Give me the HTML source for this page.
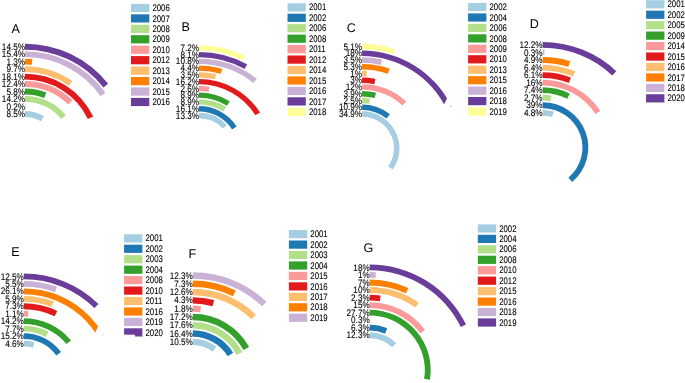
<!DOCTYPE html>
<html><head><meta charset="utf-8"><style>
html,body{margin:0;padding:0;background:#fff;width:685px;height:383px;overflow:hidden}
svg{display:block;will-change:transform}
text{text-rendering:geometricPrecision;font-family:"Liberation Sans",sans-serif;fill:#000;stroke:#000;stroke-width:0.1px}
.t{stroke:none}
.l{font-size:9.5px;text-anchor:end;dominant-baseline:central}
.g{font-size:9.5px;dominant-baseline:central}
.t{font-size:12.6px}
</style></head><body>
<svg width="685" height="383" viewBox="0 0 685 383">
<defs>
<clipPath id="cC"><path d="M0,0H685V383H0Z M434.73,147.58a107.87,106.7 0 1 0 215.75,0a107.87,106.7 0 1 0 -215.75,0Z" clip-rule="evenodd"/></clipPath>
<clipPath id="cE"><path d="M0,0H685V383H0Z M85.23,377.08a107.57,106.4 0 1 0 215.14,0a107.57,106.4 0 1 0 -215.14,0Z" clip-rule="evenodd"/></clipPath>
</defs>
<path d="M25,111A37.59,37.18 0 0 1 44.04,116.12L41.02,121.21A31.62,31.28 0 0 0 25,116.9Z" fill="#a6cee3"/>
<text transform="translate(25,114.55) scale(0.86,1)" class="l">8.5%</text>
<path d="M25,103.53A45.14,44.65 0 0 1 25.56,103.53L25.49,109.43A39.18,38.75 0 0 0 25,109.43Z" fill="#1f78b4" opacity="0.35"/>
<text transform="translate(25,107.08) scale(0.86,1)" class="l">0.2%</text>
<path d="M25,96.06A52.7,52.12 0 0 1 65.87,115.27L61.24,119A46.73,46.22 0 0 0 25,101.96Z" fill="#b2df8a"/>
<text transform="translate(25,99.61) scale(0.86,1)" class="l">14.2%</text>
<path d="M25,88.58A60.25,59.6 0 0 1 46.37,92.46L44.25,97.97A54.29,53.7 0 0 0 25,94.48Z" fill="#33a02c"/>
<text transform="translate(25,92.13) scale(0.86,1)" class="l">5.8%</text>
<path d="M25,81.11A67.81,67.07 0 0 1 72.45,100.26L68.27,104.48A61.84,61.17 0 0 0 25,87.01Z" fill="#fb9a99"/>
<text transform="translate(25,84.66) scale(0.86,1)" class="l">12.4%</text>
<path d="M25,73.64A75.36,74.54 0 0 1 93.2,116.46L87.8,118.97A69.4,68.64 0 0 0 25,79.54Z" fill="#e31a1c"/>
<text transform="translate(25,77.19) scale(0.86,1)" class="l">18.1%</text>
<path d="M25,66.17A82.92,82.01 0 0 1 72.24,80.78L68.85,85.63A76.95,76.11 0 0 0 25,72.07Z" fill="#fdbf6f"/>
<text transform="translate(25,69.72) scale(0.86,1)" class="l">9.7%</text>
<path d="M25,58.69A90.47,89.49 0 0 1 32.34,58.99L31.86,64.87A84.5,83.59 0 0 0 25,64.59Z" fill="#ff7f00"/>
<text transform="translate(25,62.24) scale(0.86,1)" class="l">1.3%</text>
<path d="M25,51.22A98.02,96.96 0 0 1 105.44,92.77L100.55,96.14A92.06,91.06 0 0 0 25,57.12Z" fill="#cab2d6"/>
<text transform="translate(25,54.77) scale(0.86,1)" class="l">15.4%</text>
<path d="M25,43.75A105.58,104.43 0 0 1 108.11,83.78L103.42,87.42A99.61,98.53 0 0 0 25,49.65Z" fill="#6a3d9a"/>
<text transform="translate(25,47.3) scale(0.86,1)" class="l">14.5%</text>
<rect x="131" y="3.85" width="18.3" height="8.2" fill="#a6cee3"/>
<text transform="translate(152.4,8.55) scale(0.82,1)" class="g">2006</text>
<rect x="131" y="14.3" width="18.3" height="8.2" fill="#1f78b4"/>
<text transform="translate(152.4,19) scale(0.82,1)" class="g">2007</text>
<rect x="131" y="24.75" width="18.3" height="8.2" fill="#b2df8a"/>
<text transform="translate(152.4,29.45) scale(0.82,1)" class="g">2008</text>
<rect x="131" y="35.2" width="18.3" height="8.2" fill="#33a02c"/>
<text transform="translate(152.4,39.9) scale(0.82,1)" class="g">2009</text>
<rect x="131" y="45.65" width="18.3" height="8.2" fill="#fb9a99"/>
<text transform="translate(152.4,50.35) scale(0.82,1)" class="g">2010</text>
<rect x="131" y="56.1" width="18.3" height="8.2" fill="#e31a1c"/>
<text transform="translate(152.4,60.8) scale(0.82,1)" class="g">2012</text>
<rect x="131" y="66.55" width="18.3" height="8.2" fill="#fdbf6f"/>
<text transform="translate(152.4,71.25) scale(0.82,1)" class="g">2013</text>
<rect x="131" y="77" width="18.3" height="8.2" fill="#ff7f00"/>
<text transform="translate(152.4,81.7) scale(0.82,1)" class="g">2014</text>
<rect x="131" y="87.45" width="18.3" height="8.2" fill="#cab2d6"/>
<text transform="translate(152.4,92.15) scale(0.82,1)" class="g">2015</text>
<rect x="131" y="97.9" width="18.3" height="8.2" fill="#6a3d9a"/>
<text transform="translate(152.4,102.6) scale(0.82,1)" class="g">2016</text>
<text x="11.6" y="33.2" class="t">A</text>
<path d="M199,112.85A37.74,37.33 0 0 1 226.88,125.02L222.92,128.59A32.38,32.03 0 0 0 199,118.15Z" fill="#a6cee3"/>
<text transform="translate(199,116.1) scale(0.86,1)" class="l">13.3%</text>
<path d="M199,106.09A44.58,44.1 0 0 1 236.66,126.59L232.14,129.42A39.22,38.8 0 0 0 199,111.38Z" fill="#1f78b4"/>
<text transform="translate(199,109.33) scale(0.86,1)" class="l">16.1%</text>
<path d="M199,99.32A51.42,50.86 0 0 1 226.15,106.99L223.32,111.49A46.06,45.56 0 0 0 199,104.62Z" fill="#b2df8a"/>
<text transform="translate(199,102.57) scale(0.86,1)" class="l">8.9%</text>
<path d="M199,92.56A58.26,57.63 0 0 1 229.76,101.24L226.93,105.74A52.9,52.33 0 0 0 199,97.85Z" fill="#33a02c"/>
<text transform="translate(199,95.8) scale(0.86,1)" class="l">8.9%</text>
<path d="M199,85.79A65.1,64.39 0 0 1 209.53,86.64L208.67,91.87A59.74,59.09 0 0 0 199,91.09Z" fill="#fb9a99"/>
<text transform="translate(199,89.04) scale(0.86,1)" class="l">2.6%</text>
<path d="M199,79.02A71.94,71.16 0 0 1 260.01,112.49L255.47,115.29A66.58,65.86 0 0 0 199,84.33Z" fill="#e31a1c"/>
<text transform="translate(199,82.27) scale(0.86,1)" class="l">16.2%</text>
<path d="M199,72.26A78.78,77.92 0 0 1 216.1,74.12L214.93,79.29A73.42,72.62 0 0 0 199,77.56Z" fill="#fdbf6f"/>
<text transform="translate(199,75.51) scale(0.86,1)" class="l">3.5%</text>
<path d="M199,65.49A85.62,84.69 0 0 1 222.25,68.68L220.79,73.78A80.26,79.39 0 0 0 199,70.8Z" fill="#ff7f00"/>
<text transform="translate(199,68.74) scale(0.86,1)" class="l">4.4%</text>
<path d="M199,58.73A92.46,91.45 0 0 1 256.78,78.78L253.43,82.92A87.1,86.15 0 0 0 199,64.03Z" fill="#cab2d6"/>
<text transform="translate(199,61.98) scale(0.86,1)" class="l">10.8%</text>
<path d="M199,51.96A99.3,98.22 0 0 1 247.15,64.28L244.55,68.92A93.94,92.92 0 0 0 199,57.27Z" fill="#6a3d9a"/>
<text transform="translate(199,55.21) scale(0.86,1)" class="l">8.1%</text>
<path d="M199,45.2A106.13,104.98 0 0 1 245.17,55.65L242.83,60.42A100.78,99.68 0 0 0 199,50.5Z" fill="#ffff99"/>
<text transform="translate(199,48.45) scale(0.86,1)" class="l">7.2%</text>
<rect x="287.5" y="3.25" width="18.3" height="8.2" fill="#a6cee3"/>
<text transform="translate(308.9,7.95) scale(0.82,1)" class="g">2001</text>
<rect x="287.5" y="13.7" width="18.3" height="8.2" fill="#1f78b4"/>
<text transform="translate(308.9,18.4) scale(0.82,1)" class="g">2002</text>
<rect x="287.5" y="24.15" width="18.3" height="8.2" fill="#b2df8a"/>
<text transform="translate(308.9,28.85) scale(0.82,1)" class="g">2006</text>
<rect x="287.5" y="34.6" width="18.3" height="8.2" fill="#33a02c"/>
<text transform="translate(308.9,39.3) scale(0.82,1)" class="g">2008</text>
<rect x="287.5" y="45.05" width="18.3" height="8.2" fill="#fb9a99"/>
<text transform="translate(308.9,49.75) scale(0.82,1)" class="g">2011</text>
<rect x="287.5" y="55.5" width="18.3" height="8.2" fill="#e31a1c"/>
<text transform="translate(308.9,60.2) scale(0.82,1)" class="g">2012</text>
<rect x="287.5" y="65.95" width="18.3" height="8.2" fill="#fdbf6f"/>
<text transform="translate(308.9,70.65) scale(0.82,1)" class="g">2014</text>
<rect x="287.5" y="76.4" width="18.3" height="8.2" fill="#ff7f00"/>
<text transform="translate(308.9,81.1) scale(0.82,1)" class="g">2015</text>
<rect x="287.5" y="86.85" width="18.3" height="8.2" fill="#cab2d6"/>
<text transform="translate(308.9,91.55) scale(0.82,1)" class="g">2016</text>
<rect x="287.5" y="97.3" width="18.3" height="8.2" fill="#6a3d9a"/>
<text transform="translate(308.9,102) scale(0.82,1)" class="g">2017</text>
<rect x="287.5" y="107.75" width="18.3" height="8.2" fill="#ffff99"/>
<text transform="translate(308.9,112.45) scale(0.82,1)" class="g">2018</text>
<text x="181.6" y="30.9" class="t">B</text>
<path d="M362.1,111.3A37.4,36.99 0 0 1 392.74,169.49L388.19,166.34A31.84,31.49 0 0 0 362.1,116.8Z" fill="#a6cee3"/>
<text transform="translate(362.1,114.65) scale(0.86,1)" class="l">34.9%</text>
<path d="M362.1,104.55A44.22,43.73 0 0 1 389.95,114.32L386.44,118.59A38.66,38.23 0 0 0 362.1,110.05Z" fill="#1f78b4"/>
<text transform="translate(362.1,107.9) scale(0.86,1)" class="l">10.9%</text>
<path d="M362.1,97.81A51.04,50.48 0 0 1 370.04,98.42L369.18,103.86A45.47,44.98 0 0 0 362.1,103.31Z" fill="#b2df8a"/>
<text transform="translate(362.1,101.16) scale(0.86,1)" class="l">2.5%</text>
<path d="M362.1,91.06A57.85,57.22 0 0 1 376.06,92.76L374.72,98.09A52.29,51.72 0 0 0 362.1,96.56Z" fill="#33a02c"/>
<text transform="translate(362.1,94.41) scale(0.86,1)" class="l">3.9%</text>
<path d="M362.1,84.32A64.67,63.97 0 0 1 406.18,101.48L402.39,105.51A59.11,58.47 0 0 0 362.1,89.82Z" fill="#fb9a99"/>
<text transform="translate(362.1,87.67) scale(0.86,1)" class="l">12%</text>
<path d="M362.1,77.58A71.49,70.71 0 0 1 375.43,78.81L374.39,84.22A65.93,65.21 0 0 0 362.1,83.08Z" fill="#e31a1c"/>
<text transform="translate(362.1,80.92) scale(0.86,1)" class="l">3%</text>
<path d="M362.1,70.83A78.31,77.46 0 0 1 366.99,70.98L366.64,76.47A72.75,71.96 0 0 0 362.1,76.33Z" fill="#fdbf6f"/>
<text transform="translate(362.1,74.18) scale(0.86,1)" class="l">1%</text>
<path d="M362.1,64.09A85.13,84.2 0 0 1 389.79,68.66L387.98,73.86A79.57,78.7 0 0 0 362.1,69.59Z" fill="#ff7f00"/>
<text transform="translate(362.1,67.44) scale(0.86,1)" class="l">5.3%</text>
<path d="M362.1,57.34A91.95,90.95 0 0 1 382.05,59.51L380.85,64.88A86.39,85.45 0 0 0 362.1,62.84Z" fill="#cab2d6"/>
<text transform="translate(362.1,60.69) scale(0.86,1)" class="l">3.5%</text>
<path d="M362.1,50.59A98.77,97.69 0 0 1 451.22,106.17L446.2,108.54A93.21,92.19 0 0 0 362.1,56.09Z" fill="#6a3d9a" clip-path="url(#cC)"/>
<text transform="translate(362.1,53.95) scale(0.86,1)" class="l">18%</text>
<path d="M362.1,43.85A105.59,104.44 0 0 1 395.19,49.11L393.45,54.33A100.03,98.94 0 0 0 362.1,49.35Z" fill="#ffff99"/>
<text transform="translate(362.1,47.2) scale(0.86,1)" class="l">5.1%</text>
<rect x="468.1" y="2.95" width="18.3" height="8.2" fill="#a6cee3"/>
<text transform="translate(489.5,7.65) scale(0.82,1)" class="g">2002</text>
<rect x="468.1" y="13.4" width="18.3" height="8.2" fill="#1f78b4"/>
<text transform="translate(489.5,18.1) scale(0.82,1)" class="g">2004</text>
<rect x="468.1" y="23.85" width="18.3" height="8.2" fill="#b2df8a"/>
<text transform="translate(489.5,28.55) scale(0.82,1)" class="g">2006</text>
<rect x="468.1" y="34.3" width="18.3" height="8.2" fill="#33a02c"/>
<text transform="translate(489.5,39) scale(0.82,1)" class="g">2008</text>
<rect x="468.1" y="44.75" width="18.3" height="8.2" fill="#fb9a99"/>
<text transform="translate(489.5,49.45) scale(0.82,1)" class="g">2009</text>
<rect x="468.1" y="55.2" width="18.3" height="8.2" fill="#e31a1c"/>
<text transform="translate(489.5,59.9) scale(0.82,1)" class="g">2010</text>
<rect x="468.1" y="65.65" width="18.3" height="8.2" fill="#fdbf6f"/>
<text transform="translate(489.5,70.35) scale(0.82,1)" class="g">2013</text>
<rect x="468.1" y="76.1" width="18.3" height="8.2" fill="#ff7f00"/>
<text transform="translate(489.5,80.8) scale(0.82,1)" class="g">2015</text>
<rect x="468.1" y="86.55" width="18.3" height="8.2" fill="#cab2d6"/>
<text transform="translate(489.5,91.25) scale(0.82,1)" class="g">2016</text>
<rect x="468.1" y="97" width="18.3" height="8.2" fill="#6a3d9a"/>
<text transform="translate(489.5,101.7) scale(0.82,1)" class="g">2018</text>
<rect x="468.1" y="107.45" width="18.3" height="8.2" fill="#ffff99"/>
<text transform="translate(489.5,112.15) scale(0.82,1)" class="g">2019</text>
<text x="346.7" y="32.2" class="t">C</text>
<path d="M542.6,109.9A38.09,37.68 0 0 1 553.86,111.58L552.12,117.12A32.23,31.88 0 0 0 542.6,115.7Z" fill="#a6cee3"/>
<text transform="translate(542.6,113.4) scale(0.86,1)" class="l">4.8%</text>
<path d="M542.6,102.36A45.72,45.22 0 0 1 572.2,182.05L568.4,177.63A39.86,39.42 0 0 0 542.6,108.16Z" fill="#1f78b4"/>
<text transform="translate(542.6,105.86) scale(0.86,1)" class="l">39%</text>
<path d="M542.6,94.81A53.35,52.77 0 0 1 551.56,95.56L550.58,101.28A47.49,46.97 0 0 0 542.6,100.61Z" fill="#b2df8a"/>
<text transform="translate(542.6,98.31) scale(0.86,1)" class="l">2.7%</text>
<path d="M542.6,87.27A60.98,60.31 0 0 1 569.81,93.6L567.19,98.79A55.11,54.51 0 0 0 542.6,93.07Z" fill="#33a02c"/>
<text transform="translate(542.6,90.77) scale(0.86,1)" class="l">7.4%</text>
<path d="M542.6,79.72A68.6,67.86 0 0 1 600.33,110.92L595.39,114.05A62.74,62.06 0 0 0 542.6,85.52Z" fill="#fb9a99"/>
<text transform="translate(542.6,83.22) scale(0.86,1)" class="l">16%</text>
<path d="M542.6,72.18A76.23,75.4 0 0 1 570.96,77.59L568.78,82.98A70.37,69.6 0 0 0 542.6,77.98Z" fill="#e31a1c"/>
<text transform="translate(542.6,75.68) scale(0.86,1)" class="l">6.1%</text>
<path d="M542.6,64.63A83.86,82.95 0 0 1 575.26,71.18L572.97,76.52A78,77.15 0 0 0 542.6,70.43Z" fill="#fdbf6f"/>
<text transform="translate(542.6,68.13) scale(0.86,1)" class="l">6.4%</text>
<path d="M542.6,57.09A91.49,90.49 0 0 1 570.18,61.3L568.41,66.83A85.62,84.69 0 0 0 542.6,62.89Z" fill="#ff7f00"/>
<text transform="translate(542.6,60.59) scale(0.86,1)" class="l">4.9%</text>
<path d="M542.6,49.54A99.11,98.04 0 0 1 544.46,49.56L544.35,55.36A93.25,92.24 0 0 0 542.6,55.34Z" fill="#cab2d6"/>
<text transform="translate(542.6,53.04) scale(0.86,1)" class="l">0.3%</text>
<path d="M542.6,42A106.74,105.58 0 0 1 616.33,71.23L612.28,75.43A100.88,99.78 0 0 0 542.6,47.8Z" fill="#6a3d9a"/>
<text transform="translate(542.6,45.5) scale(0.86,1)" class="l">12.2%</text>
<rect x="646.1" y="0.2" width="18.3" height="8.2" fill="#a6cee3"/>
<text transform="translate(667.5,4.9) scale(0.82,1)" class="g">2001</text>
<rect x="646.1" y="10.65" width="18.3" height="8.2" fill="#1f78b4"/>
<text transform="translate(667.5,15.35) scale(0.82,1)" class="g">2002</text>
<rect x="646.1" y="21.1" width="18.3" height="8.2" fill="#b2df8a"/>
<text transform="translate(667.5,25.8) scale(0.82,1)" class="g">2005</text>
<rect x="646.1" y="31.55" width="18.3" height="8.2" fill="#33a02c"/>
<text transform="translate(667.5,36.25) scale(0.82,1)" class="g">2009</text>
<rect x="646.1" y="42" width="18.3" height="8.2" fill="#fb9a99"/>
<text transform="translate(667.5,46.7) scale(0.82,1)" class="g">2014</text>
<rect x="646.1" y="52.45" width="18.3" height="8.2" fill="#e31a1c"/>
<text transform="translate(667.5,57.15) scale(0.82,1)" class="g">2015</text>
<rect x="646.1" y="62.9" width="18.3" height="8.2" fill="#fdbf6f"/>
<text transform="translate(667.5,67.6) scale(0.82,1)" class="g">2016</text>
<rect x="646.1" y="73.35" width="18.3" height="8.2" fill="#ff7f00"/>
<text transform="translate(667.5,78.05) scale(0.82,1)" class="g">2017</text>
<rect x="646.1" y="83.8" width="18.3" height="8.2" fill="#cab2d6"/>
<text transform="translate(667.5,88.5) scale(0.82,1)" class="g">2018</text>
<rect x="646.1" y="94.25" width="18.3" height="8.2" fill="#6a3d9a"/>
<text transform="translate(667.5,98.95) scale(0.82,1)" class="g">2020</text>
<text x="529.8" y="28.2" class="t">D</text>
<path d="M23.8,340.6A38.28,37.86 0 0 1 34.65,342.15L32.99,347.72A32.41,32.06 0 0 0 23.8,346.4Z" fill="#a6cee3"/>
<text transform="translate(23.8,344.1) scale(0.86,1)" class="l">4.6%</text>
<path d="M23.8,333.15A45.81,45.31 0 0 1 61.06,352.1L56.29,355.48A39.94,39.51 0 0 0 23.8,338.95Z" fill="#1f78b4"/>
<text transform="translate(23.8,336.65) scale(0.86,1)" class="l">15.2%</text>
<path d="M23.8,325.7A53.34,52.76 0 0 1 48.49,331.69L45.78,336.83A47.48,46.96 0 0 0 23.8,331.5Z" fill="#b2df8a"/>
<text transform="translate(23.8,329.2) scale(0.86,1)" class="l">7.7%</text>
<path d="M23.8,318.25A60.87,60.21 0 0 1 71.01,340.45L66.46,344.11A55.01,54.41 0 0 0 23.8,324.05Z" fill="#33a02c"/>
<text transform="translate(23.8,321.75) scale(0.86,1)" class="l">14.2%</text>
<path d="M23.8,310.8A68.4,67.66 0 0 1 28.5,310.96L28.1,316.75A62.54,61.86 0 0 0 23.8,316.6Z" fill="#fb9a99"/>
<text transform="translate(23.8,314.3) scale(0.86,1)" class="l">1.1%</text>
<path d="M23.8,303.35A75.94,75.11 0 0 1 57.26,311.03L54.67,316.24A70.07,69.31 0 0 0 23.8,309.15Z" fill="#e31a1c"/>
<text transform="translate(23.8,306.85) scale(0.86,1)" class="l">7.3%</text>
<path d="M23.8,295.9A83.47,82.56 0 0 1 53.89,301.45L51.77,306.86A77.6,76.76 0 0 0 23.8,301.7Z" fill="#fdbf6f"/>
<text transform="translate(23.8,299.4) scale(0.86,1)" class="l">5.9%</text>
<path d="M23.8,288.45A91,90.01 0 0 1 114.63,383.9L108.78,383.55A85.14,84.21 0 0 0 23.8,294.25Z" fill="#ff7f00" clip-path="url(#cE)"/>
<text transform="translate(23.8,291.95) scale(0.86,1)" class="l">26.1%</text>
<path d="M23.8,281A98.53,97.46 0 0 1 57.01,286.7L55.03,292.16A92.67,91.66 0 0 0 23.8,286.8Z" fill="#cab2d6"/>
<text transform="translate(23.8,284.5) scale(0.86,1)" class="l">5.5%</text>
<path d="M23.8,273.55A106.06,104.91 0 0 1 98.49,303.97L94.36,308.09A100.2,99.11 0 0 0 23.8,279.35Z" fill="#6a3d9a"/>
<text transform="translate(23.8,277.05) scale(0.86,1)" class="l">12.5%</text>
<rect x="124.1" y="234.25" width="18.3" height="8.2" fill="#a6cee3"/>
<text transform="translate(145.5,238.95) scale(0.82,1)" class="g">2001</text>
<rect x="124.1" y="244.7" width="18.3" height="8.2" fill="#1f78b4"/>
<text transform="translate(145.5,249.4) scale(0.82,1)" class="g">2002</text>
<rect x="124.1" y="255.15" width="18.3" height="8.2" fill="#b2df8a"/>
<text transform="translate(145.5,259.85) scale(0.82,1)" class="g">2003</text>
<rect x="124.1" y="265.6" width="18.3" height="8.2" fill="#33a02c"/>
<text transform="translate(145.5,270.3) scale(0.82,1)" class="g">2004</text>
<rect x="124.1" y="276.05" width="18.3" height="8.2" fill="#fb9a99"/>
<text transform="translate(145.5,280.75) scale(0.82,1)" class="g">2008</text>
<rect x="124.1" y="286.5" width="18.3" height="8.2" fill="#e31a1c"/>
<text transform="translate(145.5,291.2) scale(0.82,1)" class="g">2010</text>
<rect x="124.1" y="296.95" width="18.3" height="8.2" fill="#fdbf6f"/>
<text transform="translate(145.5,301.65) scale(0.82,1)" class="g">2011</text>
<rect x="124.1" y="307.4" width="18.3" height="8.2" fill="#ff7f00"/>
<text transform="translate(145.5,312.1) scale(0.82,1)" class="g">2016</text>
<rect x="124.1" y="317.85" width="18.3" height="8.2" fill="#cab2d6"/>
<text transform="translate(145.5,322.55) scale(0.82,1)" class="g">2019</text>
<rect x="124.1" y="328.3" width="18.3" height="8.2" fill="#6a3d9a"/>
<text transform="translate(145.5,333) scale(0.82,1)" class="g">2020</text>
<text x="11.2" y="256" class="t">E</text>
<path d="M192.8,338.65A38.85,38.43 0 0 1 216.51,346.63L212.56,351.7A32.38,32.03 0 0 0 192.8,345.05Z" fill="#a6cee3"/>
<text transform="translate(192.8,342.45) scale(0.86,1)" class="l">10.5%</text>
<path d="M192.8,330.35A47.24,46.73 0 0 1 233.18,352.82L227.65,356.14A40.77,40.33 0 0 0 192.8,336.75Z" fill="#1f78b4"/>
<text transform="translate(192.8,334.15) scale(0.86,1)" class="l">16.4%</text>
<path d="M192.8,322.05A55.64,55.03 0 0 1 242.38,352.12L236.62,355.02A49.16,48.63 0 0 0 192.8,328.45Z" fill="#b2df8a"/>
<text transform="translate(192.8,325.85) scale(0.86,1)" class="l">17.6%</text>
<path d="M192.8,313.75A64.03,63.33 0 0 1 249.12,346.95L243.43,350A57.56,56.93 0 0 0 192.8,320.15Z" fill="#33a02c"/>
<text transform="translate(192.8,317.55) scale(0.86,1)" class="l">17.2%</text>
<path d="M192.8,305.45A72.42,71.63 0 0 1 200.93,305.9L200.2,312.26A65.95,65.23 0 0 0 192.8,311.85Z" fill="#fb9a99"/>
<text transform="translate(192.8,309.25) scale(0.86,1)" class="l">1.8%</text>
<path d="M192.8,297.15A80.81,79.93 0 0 1 214.26,300.02L212.54,306.19A74.34,73.53 0 0 0 192.8,303.55Z" fill="#e31a1c"/>
<text transform="translate(192.8,300.95) scale(0.86,1)" class="l">4.3%</text>
<path d="M192.8,288.85A89.2,88.23 0 0 1 256.01,314.82L251.42,319.34A82.73,81.83 0 0 0 192.8,295.25Z" fill="#fdbf6f"/>
<text transform="translate(192.8,292.65) scale(0.86,1)" class="l">12.6%</text>
<path d="M192.8,280.55A97.59,96.53 0 0 1 235.8,290.42L232.95,296.17A91.12,90.13 0 0 0 192.8,286.95Z" fill="#ff7f00"/>
<text transform="translate(192.8,284.35) scale(0.86,1)" class="l">7.3%</text>
<path d="M192.8,272.25A105.98,104.83 0 0 1 266.48,301.73L261.99,306.33A99.51,98.43 0 0 0 192.8,278.65Z" fill="#cab2d6"/>
<text transform="translate(192.8,276.05) scale(0.86,1)" class="l">12.3%</text>
<rect x="288.9" y="230.05" width="18.3" height="8.2" fill="#a6cee3"/>
<text transform="translate(310.3,234.75) scale(0.82,1)" class="g">2001</text>
<rect x="288.9" y="240.5" width="18.3" height="8.2" fill="#1f78b4"/>
<text transform="translate(310.3,245.2) scale(0.82,1)" class="g">2002</text>
<rect x="288.9" y="250.95" width="18.3" height="8.2" fill="#b2df8a"/>
<text transform="translate(310.3,255.65) scale(0.82,1)" class="g">2003</text>
<rect x="288.9" y="261.4" width="18.3" height="8.2" fill="#33a02c"/>
<text transform="translate(310.3,266.1) scale(0.82,1)" class="g">2004</text>
<rect x="288.9" y="271.85" width="18.3" height="8.2" fill="#fb9a99"/>
<text transform="translate(310.3,276.55) scale(0.82,1)" class="g">2015</text>
<rect x="288.9" y="282.3" width="18.3" height="8.2" fill="#e31a1c"/>
<text transform="translate(310.3,287) scale(0.82,1)" class="g">2016</text>
<rect x="288.9" y="292.75" width="18.3" height="8.2" fill="#fdbf6f"/>
<text transform="translate(310.3,297.45) scale(0.82,1)" class="g">2017</text>
<rect x="288.9" y="303.2" width="18.3" height="8.2" fill="#ff7f00"/>
<text transform="translate(310.3,307.9) scale(0.82,1)" class="g">2018</text>
<rect x="288.9" y="313.65" width="18.3" height="8.2" fill="#cab2d6"/>
<text transform="translate(310.3,318.35) scale(0.82,1)" class="g">2019</text>
<text x="188.6" y="257.8" class="t">F</text>
<path d="M369.7,332.35A38.17,37.75 0 0 1 396.23,342.97L392.16,347.14A32.3,31.95 0 0 0 369.7,338.15Z" fill="#a6cee3"/>
<text transform="translate(369.7,335.85) scale(0.86,1)" class="l">12.3%</text>
<path d="M369.7,324.81A45.79,45.29 0 0 1 387.27,328.28L385.02,333.63A39.92,39.49 0 0 0 369.7,330.61Z" fill="#1f78b4"/>
<text transform="translate(369.7,328.31) scale(0.86,1)" class="l">6.3%</text>
<path d="M369.7,317.27A53.41,52.83 0 0 1 370.7,317.28L370.59,323.08A47.55,47.03 0 0 0 369.7,323.07Z" fill="#b2df8a" opacity="0.35"/>
<text transform="translate(369.7,320.77) scale(0.86,1)" class="l">0.3%</text>
<path d="M369.7,309.73A61.03,60.37 0 0 1 429.95,379.74L424.16,378.82A55.17,54.57 0 0 0 369.7,315.53Z" fill="#33a02c"/>
<text transform="translate(369.7,313.23) scale(0.86,1)" class="l">27.7%</text>
<path d="M369.7,302.19A68.65,67.91 0 0 1 425.04,329.91L420.31,333.35A62.79,62.11 0 0 0 369.7,307.99Z" fill="#fb9a99"/>
<text transform="translate(369.7,305.69) scale(0.86,1)" class="l">15%</text>
<path d="M369.7,294.66A76.27,75.44 0 0 1 380.63,295.43L379.79,301.17A70.41,69.64 0 0 0 369.7,300.46Z" fill="#e31a1c"/>
<text transform="translate(369.7,298.16) scale(0.86,1)" class="l">2.3%</text>
<path d="M369.7,287.12A83.9,82.98 0 0 1 418.79,302.8L415.36,307.51A78.03,77.18 0 0 0 369.7,292.92Z" fill="#fdbf6f"/>
<text transform="translate(369.7,290.62) scale(0.86,1)" class="l">10%</text>
<path d="M369.7,279.58A91.52,90.52 0 0 1 408.47,288.1L405.99,293.36A85.65,84.72 0 0 0 369.7,285.38Z" fill="#ff7f00"/>
<text transform="translate(369.7,283.08) scale(0.86,1)" class="l">7%</text>
<path d="M369.7,272.04A99.14,98.06 0 0 1 375.89,272.23L375.53,278.02A93.28,92.26 0 0 0 369.7,277.84Z" fill="#cab2d6"/>
<text transform="translate(369.7,275.54) scale(0.86,1)" class="l">1%</text>
<path d="M369.7,264.5A106.76,105.6 0 0 1 466.03,324.57L460.74,327.07A100.9,99.8 0 0 0 369.7,270.3Z" fill="#6a3d9a"/>
<text transform="translate(369.7,268) scale(0.86,1)" class="l">18%</text>
<rect x="477.8" y="224.35" width="18.3" height="8.2" fill="#a6cee3"/>
<text transform="translate(499.2,229.05) scale(0.82,1)" class="g">2002</text>
<rect x="477.8" y="234.8" width="18.3" height="8.2" fill="#1f78b4"/>
<text transform="translate(499.2,239.5) scale(0.82,1)" class="g">2004</text>
<rect x="477.8" y="245.25" width="18.3" height="8.2" fill="#b2df8a"/>
<text transform="translate(499.2,249.95) scale(0.82,1)" class="g">2006</text>
<rect x="477.8" y="255.7" width="18.3" height="8.2" fill="#33a02c"/>
<text transform="translate(499.2,260.4) scale(0.82,1)" class="g">2008</text>
<rect x="477.8" y="266.15" width="18.3" height="8.2" fill="#fb9a99"/>
<text transform="translate(499.2,270.85) scale(0.82,1)" class="g">2010</text>
<rect x="477.8" y="276.6" width="18.3" height="8.2" fill="#e31a1c"/>
<text transform="translate(499.2,281.3) scale(0.82,1)" class="g">2012</text>
<rect x="477.8" y="287.05" width="18.3" height="8.2" fill="#fdbf6f"/>
<text transform="translate(499.2,291.75) scale(0.82,1)" class="g">2015</text>
<rect x="477.8" y="297.5" width="18.3" height="8.2" fill="#ff7f00"/>
<text transform="translate(499.2,302.2) scale(0.82,1)" class="g">2016</text>
<rect x="477.8" y="307.95" width="18.3" height="8.2" fill="#cab2d6"/>
<text transform="translate(499.2,312.65) scale(0.82,1)" class="g">2018</text>
<rect x="477.8" y="318.4" width="18.3" height="8.2" fill="#6a3d9a"/>
<text transform="translate(499.2,323.1) scale(0.82,1)" class="g">2019</text>
<text x="363.4" y="251.9" class="t">G</text>
<rect x="123.5" y="334.7" width="11.5" height="2.6" fill="#fff"/>
<circle cx="450.8" cy="106.3" r="0.7" fill="#6a3d9a" opacity="0.5"/>
<circle cx="102.7" cy="334.4" r="0.7" fill="#ff7f00" opacity="0.4"/>
</svg>
</body></html>
